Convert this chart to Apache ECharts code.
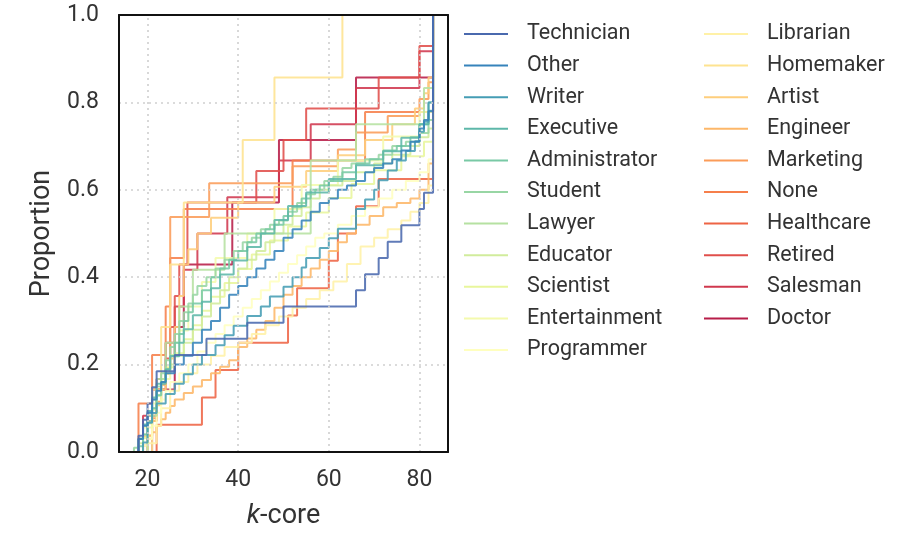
<!DOCTYPE html>
<html>
<head>
<meta charset="utf-8">
<script src="https://cdn.jsdelivr.net/npm/echarts@6/dist/echarts.min.js"></script>
<style>
  html, body { margin: 0; padding: 0; background: #fff; }
  #chart { width: 923px; height: 535px; }
</style>
</head>
<body>
<div id="chart"></div>
<script>
// Cumulative share of users per occupation, as a step curve over k-core.
// Each pair is [k-core, proportion].
const occupations = ['Technician', 'Other', 'Writer', 'Executive', 'Administrator', 'Student',
  'Lawyer', 'Educator', 'Scientist', 'Entertainment', 'Programmer', 'Librarian', 'Homemaker',
  'Artist', 'Engineer', 'Marketing', 'None', 'Healthcare', 'Retired', 'Salesman', 'Doctor'];

const technician = [[18,0],[18,.037],[19,.074],[20,.111],[21,.148],[22,.185],[26,.222],[33,.259],[42,.296],[50,.333],[66,.37],[68,.407],[71,.444],[73,.481],[76,.519],[80,.556],[81,.593],[83,1]];
const other = [[18,0],[18,.03],[19,.06],[20,.09],[21,.12],[22,.14],[23,.16],[24,.18],[26,.2],[28,.22],[30,.25],[32,.28],[34,.3],[36,.33],[38,.36],[40,.38],[42,.4],[44,.42],[46,.44],[48,.46],[50,.49],[52,.51],[54,.53],[56,.55],[58,.57],[60,.58],[62,.6],[64,.61],[66,.62],[68,.64],[70,.65],[72,.66],[74,.67],[76,.69],[78,.71],[80,.74],[81,.76],[82,.78],[83,1]];
const writer = [[19,0],[19,.022],[20,.067],[21,.089],[22,.111],[24,.133],[26,.156],[28,.178],[30,.2],[32,.222],[35,.244],[37,.267],[39,.289],[42,.311],[45,.333],[47,.356],[50,.378],[52,.4],[54,.422],[55,.444],[58,.467],[60,.489],[62,.511],[66,.556],[68,.578],[70,.6],[71,.622],[73,.644],[75,.667],[77,.689],[79,.711],[80,.733],[81,.756],[82,.8],[83,1]];
const executive = [[18,0],[18,.031],[19,.063],[20,.094],[21,.125],[22,.156],[24,.188],[25,.219],[27,.25],[28,.281],[30,.313],[32,.344],[34,.375],[36,.406],[39,.438],[42,.469],[45,.5],[48,.531],[51,.563],[55,.594],[60,.625],[66,.656],[72,.688],[76,.719],[80,.75],[82,.781],[83,1]];
const administrator = [[18,0],[18,.013],[19,.04],[20,.07],[21,.1],[22,.13],[23,.16],[24,.19],[25,.22],[26,.25],[27,.27],[28,.3],[29,.32],[30,.34],[32,.37],[34,.4],[36,.42],[38,.44],[40,.46],[42,.48],[44,.5],[46,.51],[48,.52],[50,.54],[52,.56],[54,.58],[56,.6],[58,.61],[60,.62],[63,.64],[66,.66],[69,.67],[72,.69],[75,.7],[78,.72],[80,.75],[82,.8],[83,1]];
const student = [[17,0],[17,.01],[18,.03],[19,.06],[20,.09],[21,.12],[22,.15],[23,.18],[24,.21],[25,.24],[26,.27],[27,.3],[28,.32],[29,.34],[30,.36],[31,.38],[33,.4],[35,.42],[37,.44],[39,.46],[41,.48],[43,.49],[45,.51],[47,.52],[49,.53],[51,.55],[53,.57],[55,.59],[57,.6],[59,.62],[61,.63],[63,.65],[65,.66],[68,.67],[71,.68],[74,.7],[77,.71],[80,.73],[82,.76],[83,1]];
const lawyer = [[20,0],[20,.083],[22,.167],[24,.25],[27,.333],[30,.417],[37,.5],[56,.667],[66,.75],[81,.833],[83,1]];
const educator = [[18,0],[18,.02],[19,.04],[20,.07],[21,.1],[22,.13],[23,.16],[24,.18],[25,.2],[26,.22],[28,.25],[30,.28],[32,.31],[34,.34],[36,.37],[38,.4],[40,.42],[42,.44],[44,.46],[46,.48],[48,.5],[50,.52],[52,.54],[54,.56],[56,.58],[58,.6],[60,.61],[63,.62],[66,.64],[70,.66],[74,.68],[78,.7],[80,.72],[82,.74],[83,1]];
const scientist = [[19,0],[19,.032],[20,.065],[21,.097],[22,.129],[23,.161],[24,.194],[26,.226],[28,.258],[30,.29],[32,.323],[34,.355],[37,.387],[40,.419],[43,.452],[47,.484],[51,.516],[55,.548],[60,.581],[65,.613],[70,.645],[76,.677],[81,.71],[83,1]];
const entertainment = [[19,0],[19,.056],[21,.111],[23,.167],[25,.222],[27,.278],[29,.333],[32,.389],[35,.444],[42,.5],[48,.556],[54,.611],[62,.667],[72,.722],[80,.778],[83,1]];
const programmer = [[19,0],[19,.015],[20,.03],[21,.06],[22,.09],[23,.12],[24,.14],[25,.16],[27,.18],[29,.2],[31,.23],[33,.25],[35,.27],[37,.29],[39,.31],[41,.33],[43,.35],[45,.37],[47,.39],[49,.41],[51,.43],[53,.45],[55,.47],[57,.49],[59,.5],[62,.52],[65,.54],[68,.56],[71,.58],[74,.6],[77,.62],[80,.64],[82,.67],[83,1]];
const librarian = [[20,0],[20,.02],[22,.06],[23,.1],[25,.14],[27,.16],[29,.18],[31,.2],[34,.22],[37,.24],[40,.25],[43,.27],[46,.29],[49,.31],[52,.33],[55,.35],[58,.37],[61,.39],[64,.43],[67,.47],[70,.49],[73,.51],[76,.53],[78,.55],[80,.57],[82,.61],[83,1]];
const homemaker = [[21,0],[21,.143],[23,.286],[25,.429],[28,.571],[41,.714],[48,.857],[63,1]];
const artist = [[19,0],[19,.036],[21,.071],[22,.107],[23,.143],[24,.179],[25,.214],[26,.286],[27,.357],[28,.429],[29,.464],[31,.5],[34,.536],[40,.571],[48,.607],[55,.643],[62,.679],[68,.714],[74,.75],[79,.786],[81,.821],[82,.857],[83,1]];
const engineer = [[19,0],[19,.015],[20,.03],[21,.045],[22,.06],[23,.075],[24,.09],[25,.105],[26,.12],[28,.135],[30,.15],[32,.165],[34,.18],[36,.195],[38,.21],[40,.24],[42,.26],[44,.28],[46,.3],[48,.33],[50,.36],[52,.38],[54,.4],[56,.42],[58,.44],[60,.46],[62,.48],[64,.5],[66,.52],[69,.54],[72,.56],[75,.57],[78,.58],[80,.6],[82,.66],[83,1]];
const marketing = [[20,0],[20,.038],[21,.077],[22,.115],[23,.154],[24,.192],[25,.538],[33.6,.615],[52,.654],[62,.692],[66,.731],[73,.769],[80,.808],[82,.846],[83,1]];
const none = [[18,0],[18,.111],[21,.222],[24,.333],[25,.444],[28,.556],[52,.667],[68,.778],[83,1]];
const healthcare = [[22,0],[22,.0625],[32,.125],[35,.1875],[40,.25],[51,.3125],[53,.375],[60,.4375],[62,.5],[66,.5625],[71,.625],[83,1]];
const retired = [[20,0],[20,.071],[22,.143],[24,.214],[25,.286],[26,.357],[27,.429],[28.8,.571],[44,.643],[50,.714],[55,.786],[71,.857],[80,.929],[83,1]];
const salesman = [[19,0],[19,.083],[22,.167],[24,.25],[26,.333],[28,.417],[31,.5],[37.6,.583],[49,.667],[56,.75],[66,.833],[80,.917],[83,1]];
const doctor = [[21,0],[21,.143],[26,.286],[28,.429],[38.7,.571],[49,.714],[66,.857],[83,1]];

const curves = [technician, other, writer, executive, administrator, student, lawyer, educator,
  scientist, entertainment, programmer, librarian, homemaker, artist, engineer, marketing,
  none, healthcare, retired, salesman, doctor];

const xTicks = [20, 40, 60, 80];
const yTicks = [0, 0.2, 0.4, 0.6, 0.8, 1.0];

// Spectral colour ramp, reversed (blue -> red), sampled without its two end points
const spectral = ['#9e0142','#d53e4f','#f46d43','#fdae61','#fee08b','#ffffbf','#e6f598','#abdda4','#66c2a5','#3288bd','#5e4fa2'];
function hex(c) { return [1,3,5].map(i => parseInt(c.slice(i, i + 2), 16)); }
function spectralR(t) {
  const s = (1 - t) * 10;
  const j = Math.min(9, Math.floor(s));
  const f = s - j;
  const a = hex(spectral[j]), b = hex(spectral[j + 1]);
  const m = a.map((v, k) => Math.round(v + (b[k] - v) * f));
  return 'rgb(' + m.join(',') + ')';
}
const colors = occupations.map((_, i) => spectralR((i + 1) / (occupations.length + 1)));

const font = 'Roboto, "DejaVu Sans", sans-serif';
const chart = echarts.init(document.getElementById('chart'), null, { renderer: 'canvas' });

const gridStyle = { color: '#cfcfcf', width: 1.6, type: [2, 4] };
const series = [];
// dotted grid lines at the inner ticks
series.push({
  type: 'line', data: [], z: 1, silent: true,
  markLine: {
    silent: true, symbol: 'none', label: { show: false }, lineStyle: gridStyle,
    data: xTicks.map(v => ({ xAxis: v }))
      .concat(yTicks.filter(v => v > 0 && v < 1).map(v => ({ yAxis: v })))
  }
});
// first occupation drawn last, on top
for (let i = occupations.length - 1; i >= 0; i--) {
  series.push({
    name: occupations[i], type: 'line', step: 'end', showSymbol: false, z: 3,
    data: curves[i], color: colors[i],
    lineStyle: { width: 2, opacity: 0.88 },
    emphasis: { disabled: true }
  });
}

const legendCommon = {
  orient: 'vertical', top: 17, itemGap: 7.6, itemWidth: 44, itemHeight: 2, icon: 'rect',
  selectedMode: false,
  textStyle: { fontFamily: font, fontSize: 21.5, color: '#333', lineHeight: 24, padding: [0, 0, 0, 14] }
};

const frame = { show: true, onZero: false, lineStyle: { color: '#111', width: 2 } };
const hiddenAxisParts = { axisTick: { show: false }, splitLine: { show: false } };

chart.setOption({
  animation: false,
  backgroundColor: '#fff',
  grid: { left: 119, right: 475, top: 15, bottom: 82.3 },
  legend: [
    Object.assign({ left: 459, data: occupations.slice(0, 11) }, legendCommon),
    Object.assign({ left: 699, data: occupations.slice(11) }, legendCommon)
  ],
  xAxis: [
    Object.assign({
      type: 'value', min: 13.7, max: 86.3, position: 'bottom', z: 10, axisLine: frame,
      axisLabel: { customValues: xTicks, margin: 17, fontFamily: font, fontSize: 23, color: '#333' },
      name: '{i|k}-core', nameLocation: 'middle', nameGap: 51,
      nameTextStyle: { fontFamily: font, fontSize: 27, color: '#333',
        rich: { i: { fontFamily: font, fontSize: 27, color: '#333', fontStyle: 'italic' } } }
    }, hiddenAxisParts),
    Object.assign({
      type: 'value', min: 13.7, max: 86.3, position: 'top', z: 10, axisLine: frame,
      axisLabel: { show: false }
    }, hiddenAxisParts)
  ],
  yAxis: [
    Object.assign({
      type: 'value', min: 0, max: 1, interval: 0.2, position: 'left', z: 10, axisLine: frame,
      axisLabel: { margin: 20, fontFamily: font, fontSize: 23, color: '#333', formatter: v => v.toFixed(1) },
      name: 'Proportion', nameLocation: 'middle', nameGap: 63,
      nameTextStyle: { fontFamily: font, fontSize: 27, color: '#333' }
    }, hiddenAxisParts),
    Object.assign({
      type: 'value', min: 0, max: 1, interval: 0.2, position: 'right', z: 10, axisLine: frame,
      axisLabel: { show: false }
    }, hiddenAxisParts)
  ],
  series: series
});
</script>
</body>
</html>
